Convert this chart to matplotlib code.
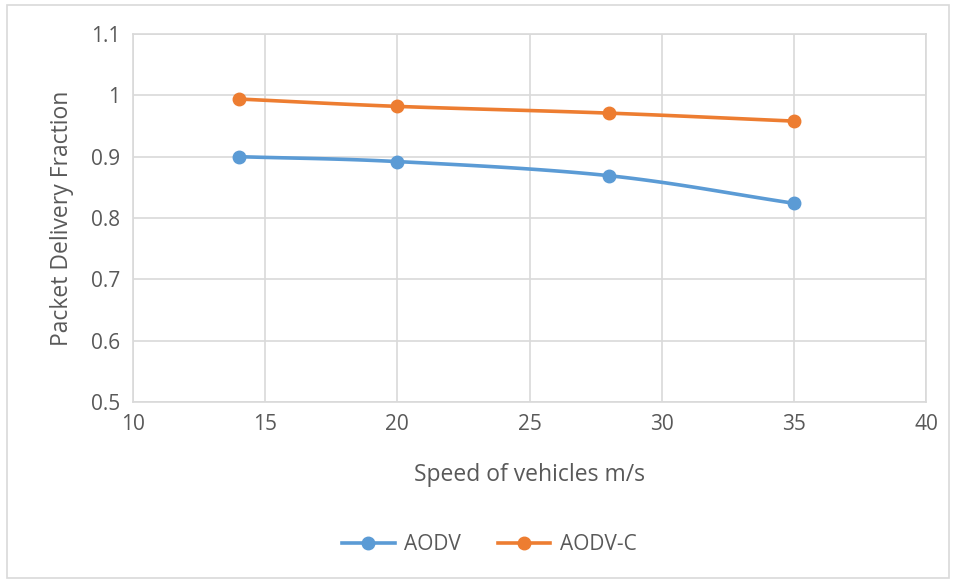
import numpy as np
import matplotlib
matplotlib.use("Agg")
import matplotlib.pyplot as plt
from matplotlib.patches import Rectangle

speeds = [14, 20, 28, 35]
aodv = [0.900, 0.892, 0.869, 0.824]
aodv_c = [0.994, 0.982, 0.971, 0.958]
series_names = ["AODV", "AODV-C"]
colors = ["#5B9BD5", "#ED7D31"]

plt.rcParams['font.family'] = ['Open Sans', 'DejaVu Sans']

def smooth(x, y, n=40):
    x = np.asarray(x, float); y = np.asarray(y, float)
    px = np.concatenate([[2*x[0]-x[1]], x, [2*x[-1]-x[-2]]])
    py = np.concatenate([[2*y[0]-y[1]], y, [2*y[-1]-y[-2]]])
    xs, ys = [], []
    for i in range(1, len(px)-2):
        t = np.linspace(0, 1, n)
        p0, p1, p2, p3 = px[i-1], px[i], px[i+1], px[i+2]
        q0, q1, q2, q3 = py[i-1], py[i], py[i+1], py[i+2]
        f = lambda a, b, c, d: 0.5*((2*b) + (-a+c)*t + (2*a-5*b+4*c-d)*t**2 + (-a+3*b-3*c+d)*t**3)
        xs.append(f(p0, p1, p2, p3)); ys.append(f(q0, q1, q2, q3))
    return np.concatenate(xs), np.concatenate(ys)

fig = plt.figure(figsize=(9.56, 5.8), dpi=100)
fig.patches.append(Rectangle((7/956, 2/580), 942/956, 573/580, transform=fig.transFigure,
                             fill=False, edgecolor="#D9D9D9", linewidth=1.2))
ax = fig.add_axes([133/956, 1-402/580, (926-133)/956, (402-34)/580])

for ys, c, name in zip([aodv, aodv_c], colors, series_names):
    sx, sy = smooth(speeds, ys)
    ax.plot(sx, sy, color=c, linewidth=2.6, solid_capstyle='round', zorder=3)
    ax.plot(speeds, ys, 'o', color=c, markersize=9, zorder=4)
    ax.plot([], [], '-o', color=c, linewidth=2.6, markersize=9, label=name)

ax.set_xlim(10, 40)
ax.set_ylim(0.5, 1.1)
ax.set_xticks([10, 15, 20, 25, 30, 35, 40])
ax.set_yticks([0.5, 0.6, 0.7, 0.8, 0.9, 1.0, 1.1])
ax.set_yticklabels(["0.5", "0.6", "0.7", "0.8", "0.9", "1", "1.1"])
ax.grid(True, color="#D9D9D9", linewidth=1.2, zorder=0)
ax.set_axisbelow(True)
for s in ax.spines.values():
    s.set_color("#D9D9D9"); s.set_linewidth(1.2)
ax.tick_params(length=0, labelsize=15, labelcolor="#595959", pad=9)
ax.set_xlabel("Speed of vehicles m/s", fontsize=16.5, color="#595959", labelpad=20)
ax.set_ylabel("Packet Delivery Fraction", fontsize=16.5, color="#595959", labelpad=12)

fig.legend(loc='center', bbox_to_anchor=(0.512, 1-545/580), ncol=2, frameon=False,
           fontsize=15, labelcolor="#595959", handlelength=2.5, columnspacing=1.8, handletextpad=0.45)

fig.savefig("out.png", dpi=100)
